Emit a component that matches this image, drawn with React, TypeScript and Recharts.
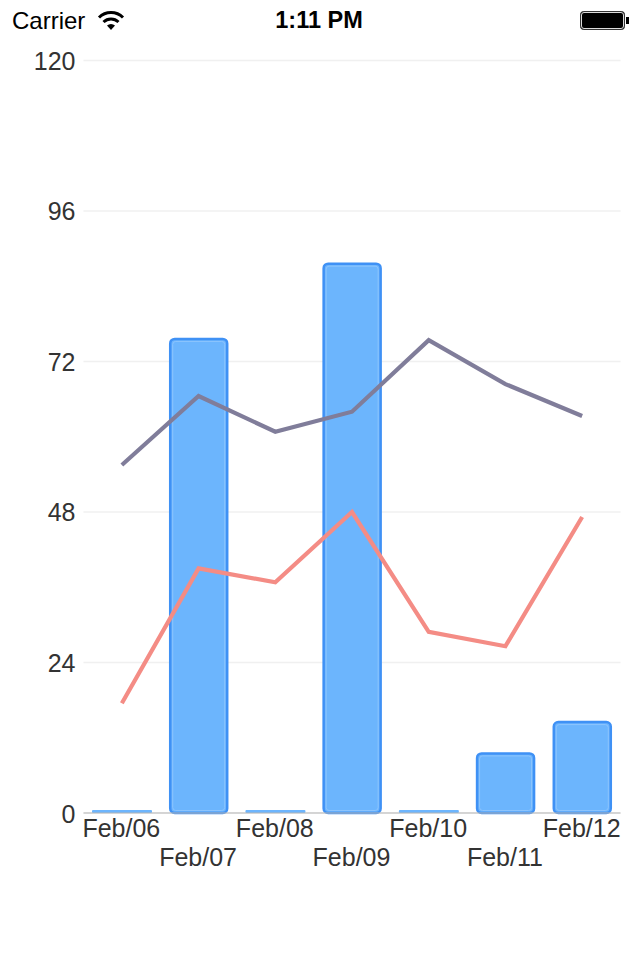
import { ComposedChart, Bar, Line, XAxis, YAxis, CartesianGrid } from "recharts";

const days = ["Feb/06", "Feb/07", "Feb/08", "Feb/09", "Feb/10", "Feb/11", "Feb/12"];
const barValues = [0, 75.6, 0, 87.6, 0, 9.5, 14.5];
const grayValues = [55.5, 66.5, 60.8, 64, 75.4, 68.4, 63.3];
const redValues = [17.5, 39, 36.8, 48, 28.9, 26.6, 47.2];
const yTicks = [0, 24, 48, 72, 96, 120];

const chartData = days.map((day, i) => ({
  day,
  bars: barValues[i],
  gray: grayValues[i],
  red: redValues[i],
}));

const FONT = '"Liberation Sans", Arial, sans-serif';

// bars with a rounded border and a faint inner highlight, zero values stay a thin strip
const RoundedBar = ({ x, y, width, height }: any) => {
  if (!height || height < 1) {
    return <rect x={x - 1.5} y={y - 3} width={width + 3} height={3} rx={1} fill="#6db5fd" />;
  }
  return (
    <g>
      <rect x={x} y={y} width={width} height={height} rx={4.5} fill="#6cb5fd" stroke="#3f91f5" strokeWidth={2.5} />
      <rect x={x + 2.5} y={y + 2.5} width={width - 5} height={height - 5} rx={3} fill="none" stroke="#8cc4fd" strokeWidth={1} />
    </g>
  );
};

// every second label goes on a lower row
const DayTick = ({ x, y, payload, index }: any) => (
  <text
    x={x - 0.5}
    y={index % 2 === 0 ? y + 16 : y + 45}
    textAnchor="middle"
    fontFamily={FONT}
    fontSize={25}
    fill="#333333"
  >
    {payload.value}
  </text>
);

const YTick = ({ x, y, payload }: any) => (
  <text x={x - 2} y={payload.value === 0 ? y + 10 : y + 9} textAnchor="end" fontFamily={FONT} fontSize={25} fill="#333333">
    {payload.value}
  </text>
);

const StatusBar = () => (
  <div style={{ position: "absolute", left: 0, top: 0, width: 640, height: 40, fontFamily: FONT, color: "#000" }}>
    <span style={{ position: "absolute", left: 12, top: 7, fontSize: 24 }}>Carrier</span>
    <svg style={{ position: "absolute", left: 97, top: 10 }} width={28} height={20} viewBox="0 0 28 20">
      <path d="M2 7.5 A17 17 0 0 1 26 7.5" fill="none" stroke="#000" strokeWidth={3} />
      <path d="M6.5 12 A11 11 0 0 1 21.5 12" fill="none" stroke="#000" strokeWidth={3} />
      <path d="M10 15.5 A6 6 0 0 1 18 15.5 L14 20 Z" fill="#000" />
    </svg>
    <span style={{ position: "absolute", left: 0, width: 638, top: 7, fontSize: 23.5, fontWeight: 700, textAlign: "center" }}>
      1:11 PM
    </span>
    <svg style={{ position: "absolute", left: 578, top: 9 }} width={54} height={24} viewBox="0 0 54 24">
      <rect x={2.5} y={2.5} width={44} height={18} rx={3} fill="#000" stroke="#333" strokeWidth={1} />
      <rect x={3.5} y={3.5} width={42} height={16} rx={2.5} fill="none" stroke="#ddd" strokeWidth={1} />
      <rect x={48} y={8} width={3} height={7} fill="#000" />
    </svg>
  </div>
);

export default function App() {
  return (
    <div style={{ position: "absolute", left: 0, top: 0, width: 640, height: 960, background: "#fff" }}>
      <StatusBar />
      <ComposedChart
        width={640}
        height={960}
        data={chartData}
        margin={{ top: 60.5, right: 19.5, bottom: 0, left: 0 }}
        barCategoryGap={0}
      >
        <CartesianGrid vertical={false} stroke="#f0f0f0" strokeWidth={1.5} />
        <XAxis
          dataKey="day"
          interval={0}
          height={147}
          stroke="#b5b5b5"
          tickLine={false}
          tick={<DayTick />}
        />
        <YAxis
          width={83.5}
          domain={[0, 120]}
          ticks={yTicks}
          axisLine={false}
          tickLine={false}
          tickMargin={0}
          tick={<YTick />}
        />
        <Bar dataKey="bars" barSize={57} shape={<RoundedBar />} isAnimationActive={false} />
        <Line dataKey="gray" stroke="#807d9a" strokeWidth={4.2} dot={false} type="linear" isAnimationActive={false} />
        <Line dataKey="red" stroke="#f48c85" strokeWidth={4.2} dot={false} type="linear" isAnimationActive={false} />
      </ComposedChart>
    </div>
  );
}
